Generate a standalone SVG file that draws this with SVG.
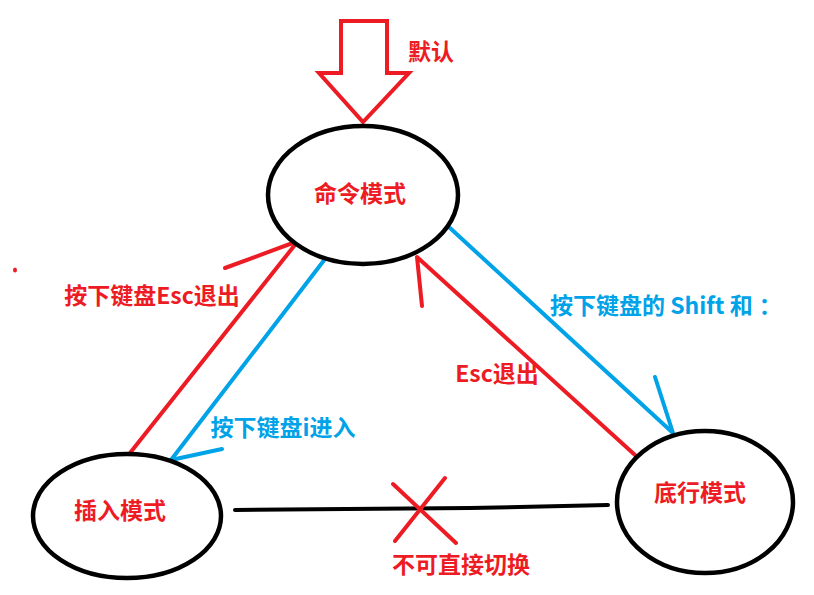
<svg xmlns="http://www.w3.org/2000/svg" width="814" height="595" viewBox="0 0 814 595">
<style>
.node{fill:#fff;stroke:#000;stroke-width:4.5}
.t{font-family:"Noto Sans CJK SC","Microsoft YaHei",sans-serif;font-weight:bold;font-size:23px;text-anchor:middle}
.r{fill:#ED1C24}
.b{fill:#00A2E8}
.lr{fill:none;stroke:#ED1C24;stroke-width:4;stroke-linecap:round;stroke-linejoin:round}
.lb{fill:none;stroke:#00A2E8;stroke-width:4;stroke-linecap:round;stroke-linejoin:round}
.lk{fill:none;stroke:#000;stroke-width:4;stroke-linecap:round}
</style>
<rect width="814" height="595" fill="#fff"/>
<g id="default-arrow">
<polygon points="341,21 387,21 387,73 409,73 363,122 319,73 341,73" fill="#fff" stroke="#ED1C24" stroke-width="4" stroke-linejoin="miter"/>
<text class="t r" x="431" y="60">默认</text>
</g>
<g id="connectors">
<polyline class="lr" points="130,453 298,241 225,268"/>
<polyline class="lb" points="325,259 171,460 222,449"/>
<polyline class="lr" points="635,455 417,257 422,306"/>
<polyline class="lb" points="450,228 673,433 655,377"/>
<polyline class="lk" points="235,510 470,508 608,505"/>
<line class="lr" x1="393" y1="484" x2="456" y2="543"/>
<line class="lr" x1="445" y1="478" x2="395" y2="541"/>
</g>
<g id="labels">
<text class="t r" x="152" y="304">按下键盘Esc退出</text>
<text class="t r" x="497" y="382">Esc退出</text>
<text class="t b" x="283" y="436">按下键盘i进入</text>
<text class="t b" x="550" y="314" style="text-anchor:start">按下键盘的 Shift 和<tspan dx="6">：</tspan></text>
<text class="t r" x="461" y="573">不可直接切换</text>
</g>
<g id="node-command">
<ellipse class="node" cx="363" cy="195" rx="95" ry="69"/>
<text class="t r" x="360" y="202">命令模式</text>
</g>
<g id="node-insert">
<ellipse class="node" cx="127" cy="516" rx="94" ry="62"/>
<text class="t r" x="120" y="519">插入模式</text>
</g>
<g id="node-lastline">
<ellipse class="node" cx="705" cy="502" rx="88" ry="71"/>
<text class="t r" x="700" y="501">底行模式</text>
</g>
<ellipse cx="15" cy="270" rx="2" ry="2.5" fill="#ED1C24"/>
</svg>
